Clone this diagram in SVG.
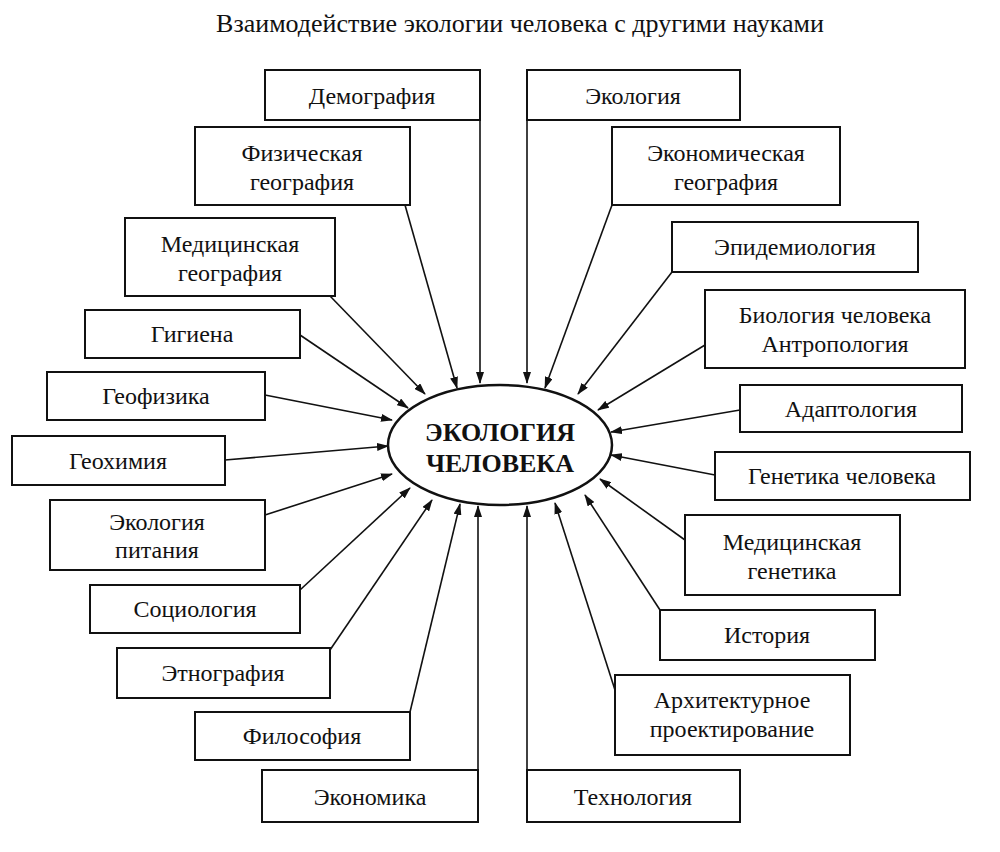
<svg xmlns="http://www.w3.org/2000/svg" width="1000" height="852" viewBox="0 0 1000 852">
<style>
text{font-family:"Liberation Serif","Times New Roman",serif;font-size:24px;fill:#111;text-anchor:middle}
.b rect{fill:#fff;stroke:#111;stroke-width:2}
.c line{stroke:#111;stroke-width:1.6;marker-end:url(#a)}
</style>
<defs><marker id="a" markerWidth="12" markerHeight="8" refX="11" refY="4" orient="auto" markerUnits="userSpaceOnUse"><path d="M0,0 L12,4 L0,8 Z" fill="#111"/></marker></defs>
<rect width="1000" height="852" fill="#fff"/>
<text x="520" y="32" style="font-size:26px">Взаимодействие экологии человека с другими науками</text>
<g class="c">
<line x1="480" y1="120" x2="480" y2="383"/>
<line x1="405" y1="205" x2="457" y2="388"/>
<line x1="330" y1="296" x2="425" y2="394"/>
<line x1="300" y1="335" x2="408" y2="408"/>
<line x1="265" y1="395" x2="392" y2="420"/>
<line x1="225" y1="460" x2="388" y2="446"/>
<line x1="265" y1="515" x2="392" y2="474"/>
<line x1="300" y1="590" x2="410" y2="488"/>
<line x1="330" y1="650" x2="432" y2="500"/>
<line x1="410" y1="712" x2="460" y2="504"/>
<line x1="478" y1="770" x2="478" y2="506"/>
<line x1="527" y1="120" x2="527" y2="383"/>
<line x1="612" y1="205" x2="545" y2="388"/>
<line x1="672" y1="272" x2="578" y2="394"/>
<line x1="705" y1="345" x2="598" y2="410"/>
<line x1="740" y1="410" x2="611" y2="432"/>
<line x1="715" y1="475" x2="611" y2="455"/>
<line x1="685" y1="540" x2="600" y2="479"/>
<line x1="660" y1="610" x2="585" y2="495"/>
<line x1="615" y1="690" x2="555" y2="503"/>
<line x1="527" y1="770" x2="527" y2="506"/>
</g>
<g id="center"><ellipse cx="500" cy="445" rx="112" ry="60" fill="#fff" stroke="#111" stroke-width="2.5"/>
<text x="500" y="441" style="font-weight:bold;font-size:26px">ЭКОЛОГИЯ</text><text x="500" y="472" style="font-weight:bold;font-size:26px">ЧЕЛОВЕКА</text></g>
<g class="b">
<g id="n1"><rect x="265" y="70" width="215" height="50"/><text x="372" y="104">Демография</text></g>
<g id="n2"><rect x="195" y="127" width="215" height="78"/><text x="302" y="161">Физическая</text><text x="302" y="190">география</text></g>
<g id="n3"><rect x="125" y="218" width="210" height="78"/><text x="230" y="252">Медицинская</text><text x="230" y="281">география</text></g>
<g id="n4"><rect x="85" y="310" width="215" height="48"/><text x="192" y="342">Гигиена</text></g>
<g id="n5"><rect x="47" y="372" width="218" height="48"/><text x="156" y="404">Геофизика</text></g>
<g id="n6"><rect x="12" y="436" width="213" height="49"/><text x="118" y="469">Геохимия</text></g>
<g id="n7"><rect x="50" y="500" width="215" height="70"/><text x="157" y="530">Экология</text><text x="157" y="558">питания</text></g>
<g id="n8"><rect x="90" y="585" width="210" height="48"/><text x="195" y="617">Социология</text></g>
<g id="n9"><rect x="117" y="648" width="213" height="50"/><text x="223" y="681">Этнография</text></g>
<g id="n10"><rect x="195" y="712" width="215" height="48"/><text x="302" y="744">Философия</text></g>
<g id="n11"><rect x="262" y="770" width="216" height="52"/><text x="370" y="805">Экономика</text></g>
<g id="n12"><rect x="527" y="70" width="213" height="50"/><text x="633" y="104">Экология</text></g>
<g id="n13"><rect x="612" y="127" width="228" height="78"/><text x="726" y="161">Экономическая</text><text x="726" y="190">география</text></g>
<g id="n14"><rect x="672" y="222" width="246" height="50"/><text x="795" y="255">Эпидемиология</text></g>
<g id="n15"><rect x="705" y="290" width="260" height="78"/><text x="835" y="323">Биология человека</text><text x="835" y="352">Антропология</text></g>
<g id="n16"><rect x="740" y="385" width="222" height="47"/><text x="851" y="417">Адаптология</text></g>
<g id="n17"><rect x="715" y="452" width="255" height="48"/><text x="842" y="484">Генетика человека</text></g>
<g id="n18"><rect x="685" y="515" width="215" height="80"/><text x="792" y="550">Медицинская</text><text x="792" y="579">генетика</text></g>
<g id="n19"><rect x="660" y="610" width="215" height="50"/><text x="767" y="643">История</text></g>
<g id="n20"><rect x="615" y="675" width="235" height="80"/><text x="732" y="708">Архитектурное</text><text x="732" y="737">проектирование</text></g>
<g id="n21"><rect x="527" y="770" width="213" height="52"/><text x="633" y="805">Технология</text></g>
</g>
</svg>
